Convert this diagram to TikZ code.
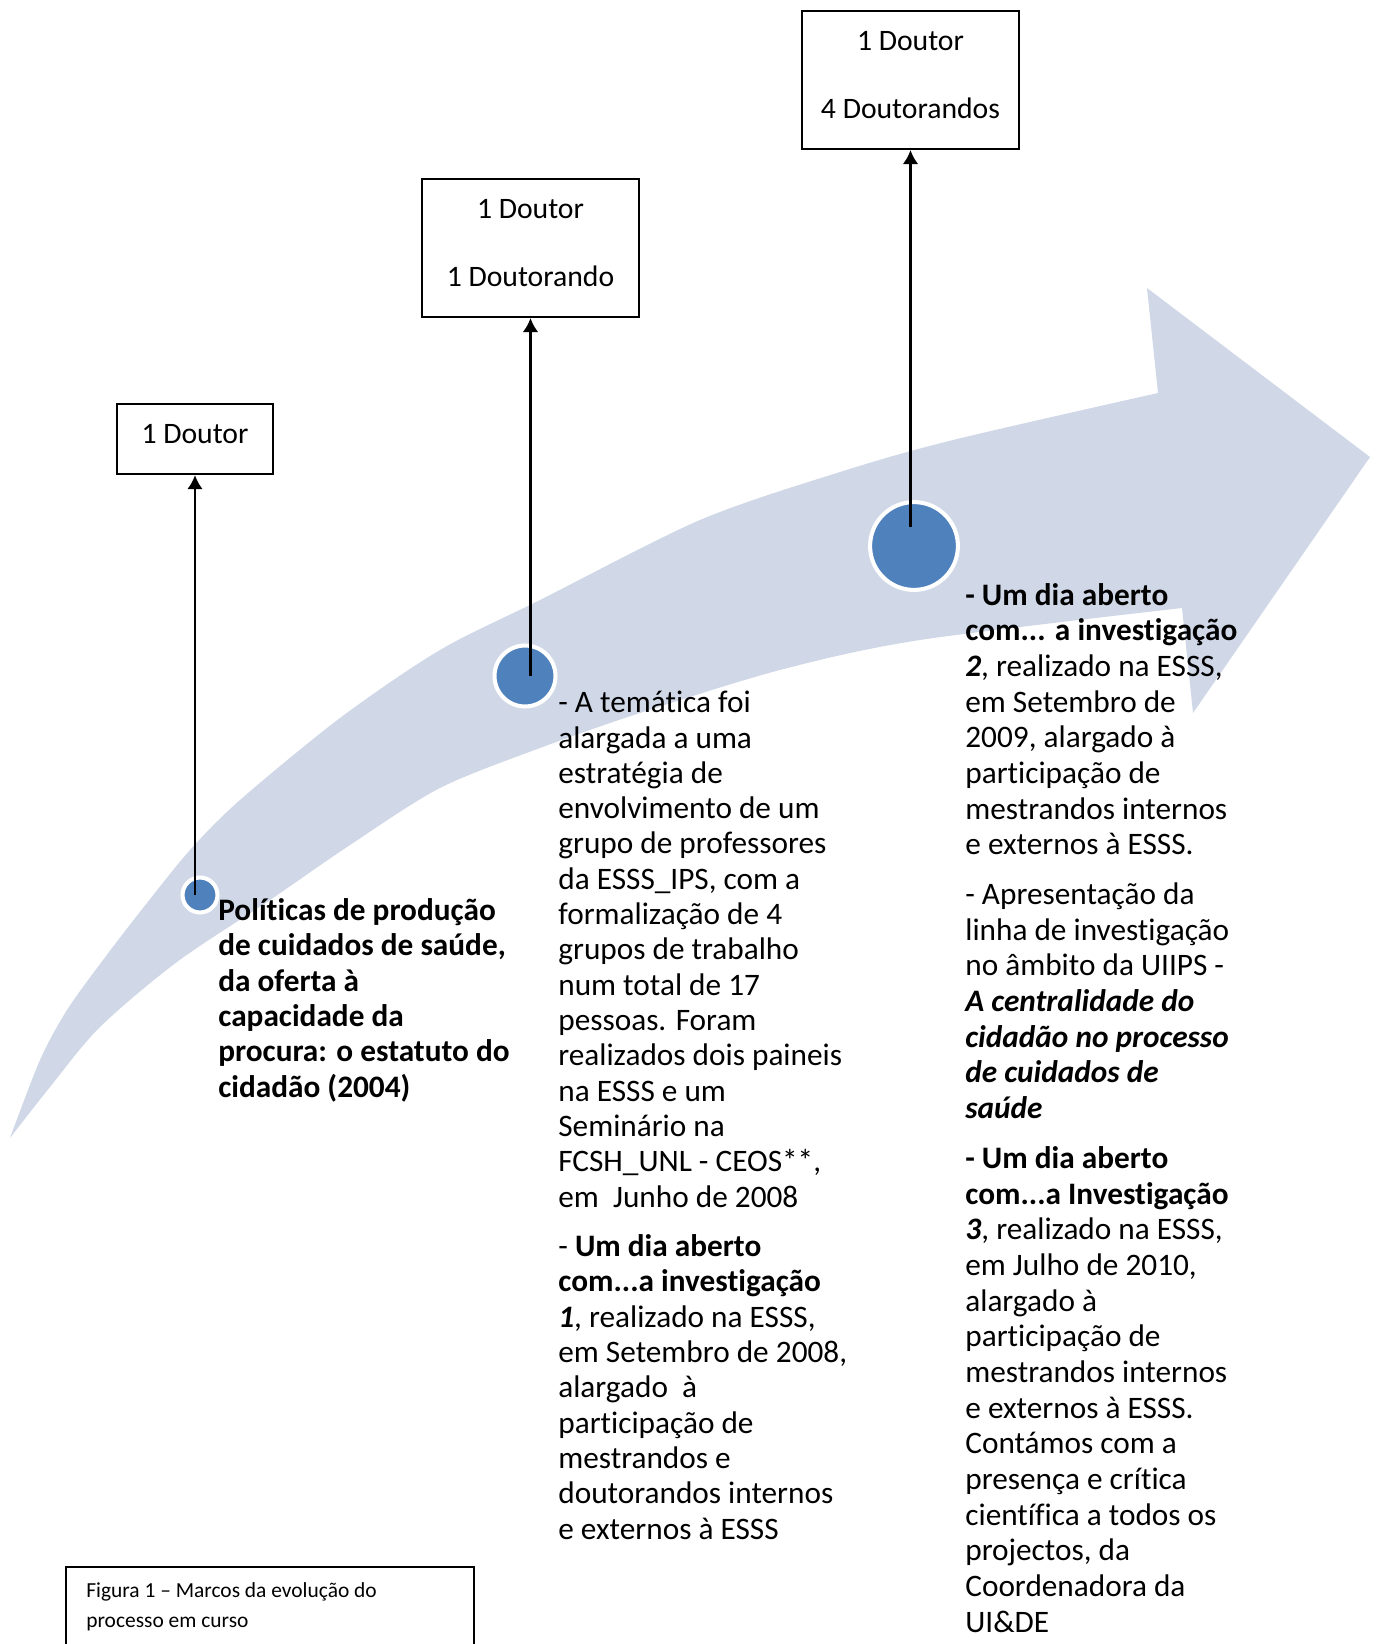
\documentclass[tikz,border=0pt]{standalone}
\usepackage{fontspec}
\setmainfont{Carlito}[Ligatures=NoCommon]
\usetikzlibrary{arrows.meta,positioning}
\definecolor{bandblue}{RGB}{208,216,232}
\definecolor{dotblue}{RGB}{79,129,189}

\begin{document}
\begin{tikzpicture}[x=0.02cm,y=-0.02cm,>={Latex[length=8pt,width=9pt]},
    dot/.style={circle,fill=dotblue,draw=white,line width=2.3pt,inner sep=0pt},
    doc/.style={draw,line width=1.1pt,align=center,text depth=5.6pt,font=\fontsize{16.9}{19.4}\selectfont},
    info/.style={anchor=base west,align=left,inner sep=0pt,font=\fontsize{17.8}{20.1}\selectfont}]
  \useasboundingbox (0,0) rectangle (1378,1644);
  \clip (0,0) rectangle (1378,1644);

  % curved arrow behind everything
  \fill[bandblue] plot[smooth] coordinates {(10,1138) (40,1060) (67,1010) (103,960) (143,908)
      (190,850) (240,800) (340,718) (440,650) (540,600) (700,520) (840,472) (953,440) (1158,393)}
    -- (1147,288) -- (1370,457) -- (1193,713)
    -- plot[smooth] coordinates {(1182,608) (920,640) (780,670) (640,713) (540,748) (440,788)
      (350,845) (270,900) (177,962) (100,1027) (50,1087) (10,1138)} -- cycle;

  \node[dot,minimum size=19.9pt] (dot1) at (200,895) {};
  \node[dot,minimum size=34.7pt] (dot2) at (525,676) {};
  \node[dot,minimum size=50pt] (dot3) at (914,546) {};

  \node[doc,minimum width=88.8pt,minimum height=40pt] (d1) at (195,439) {1 Doutor};
  \node[doc,minimum width=123.5pt,minimum height=78.6pt] (d2) at (530.5,248) {1 Doutor\\[19.3pt]1 Doutorando};
  \node[doc,minimum width=123.5pt,minimum height=78.6pt] (d3) at (910.5,80) {1 Doutor\\[19.3pt]4 Doutorandos};

  \draw[->,line width=1.6pt] (d1.south |- dot1.center) -- (d1.south);
  \draw[->,line width=1.6pt] (d2.south |- dot2.center) -- (d2.south);
  \draw[->,line width=1.6pt,shorten <=11pt] (d3.south |- dot3.center) -- (d3.south);

  % texts are placed by the baseline of their last line
  \node[info,font=\fontsize{17.8}{20.1}\selectfont\bfseries] (t1) at (218,1097) {Políticas de produção\\
    de cuidados de saúde,\\ da oferta à\\ capacidade da\\ procura: o estatuto do\\ cidadão (2004)};

  \node[info] (t2) at (558,1539) {- A temática foi\\ alargada a uma\\ estratégia de\\
    envolvimento de um\\ grupo de professores\\ da ESSS\_IPS, com a\\ formalização de 4\\
    grupos de trabalho\\ num total de 17\\ pessoas. Foram\\ realizados dois paineis\\
    na ESSS e um\\ Seminário na\\ FCSH\_UNL - CEOS**,\\ em~ Junho de 2008\\[8pt]
    - \textbf{Um dia aberto}\\ \textbf{com...a investigação}\\ \textbf{\textit{1}}, realizado na ESSS,\\
    em Setembro de 2008,\\ alargado~ à\\ participação de\\ mestrandos e\\
    doutorandos internos\\ e externos à ESSS};

  \node[info,font=\fontsize{17.8}{20.3}\selectfont] (t3) at (965,1632) {\textbf{- Um dia aberto}\\ \textbf{com... a investigação}\\
    \textbf{\textit{2}}, realizado na ESSS,\\ em Setembro de\\ 2009, alargado à\\
    participação de\\ mestrandos internos\\ e externos à ESSS.\\[8pt]
    - Apresentação da\\ linha de investigação\\ no âmbito da UIIPS -\\
    \textbf{\textit{A centralidade do}}\\ \textbf{\textit{cidadão no processo}}\\
    \textbf{\textit{de cuidados de}}\\ \textbf{\textit{saúde}}\\[8pt]
    \textbf{- Um dia aberto}\\ \textbf{com...a Investigação}\\ \textbf{\textit{3}}, realizado na ESSS,\\
    em Julho de 2010,\\ alargado à\\ participação de\\ mestrandos internos\\
    e externos à ESSS.\\ Contámos com a\\ presença e crítica\\ científica a todos os\\
    projectos, da\\ Coordenadora da\\ UI\&DE};

  % caption frame runs past the bottom edge
  \node[draw,line width=1.1pt,anchor=north west,minimum width=232pt,minimum height=80pt] (capbox) at (65,1566) {};
  \node[anchor=base west,align=left,inner sep=0pt,font=\fontsize{12.2}{16.7}\selectfont] (cap) at (86,1627)
    {Figura 1 – Marcos da evolução do\\ processo em curso};
\end{tikzpicture}
\end{document}
